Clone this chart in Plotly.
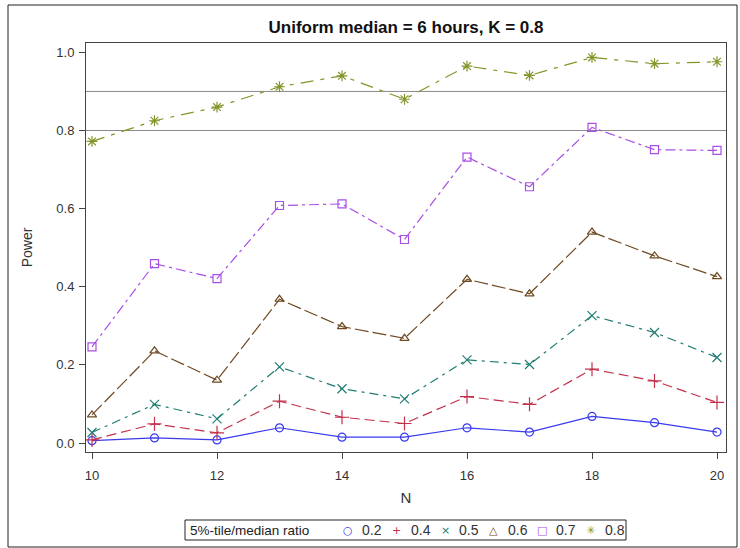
import plotly.graph_objects as go

# Sample size on the x axis
N = [10, 11, 12, 13, 14, 15, 16, 17, 18, 19, 20]

# Ratio of 5th percentile to median (legend groups)
RATIOS = ["0.2", "0.4", "0.5", "0.6", "0.7", "0.8"]
LEGEND_TITLE = "5%-tile/median ratio"

# Estimated power for each ratio
power_02 = [0.006, 0.013, 0.008, 0.039, 0.015, 0.015, 0.039, 0.028, 0.068, 0.052, 0.028]
power_04 = [0.008, 0.049, 0.026, 0.107, 0.066, 0.050, 0.119, 0.099, 0.189, 0.159, 0.104]
power_05 = [0.027, 0.099, 0.062, 0.195, 0.139, 0.113, 0.213, 0.201, 0.326, 0.283, 0.219]
power_06 = [0.072, 0.236, 0.161, 0.368, 0.298, 0.268, 0.419, 0.382, 0.540, 0.479, 0.426]
power_07 = [0.246, 0.459, 0.421, 0.608, 0.612, 0.521, 0.732, 0.656, 0.808, 0.751, 0.749]
power_08 = [0.772, 0.825, 0.860, 0.912, 0.940, 0.880, 0.965, 0.941, 0.987, 0.971, 0.976]

# Target power reference lines
REF_LINES = [0.9, 0.8]

POWER = [power_02, power_04, power_05, power_06, power_07, power_08]

COLORS = ["#3a3aee", "#c2304a", "#1f7d73", "#6e4a22", "#a84fe6", "#84952a"]
SYMBOLS = ["circle-open", "cross-thin-open", "x-thin-open",
           "triangle-up-open", "square-open", "asterisk-open"]
LEGEND_GLYPHS = ["\u25CB", "+", "\u00D7", "\u25B3", "\u25A1", "\u2733"]
DASHES = ["solid", "10px,5px", "9px,5px,3px,5px", "14px,4px",
          "10px,4px,3px,4px", "13px,7px,4px,7px"]
SIZES = [8, 10, 9, 8, 8, 9]

# Plot-area geometry in pixels
W, H = 740, 548
ML, MR, MT, MB = 86, 14, 43, 96
PW, PH = W - ML - MR, H - MT - MB


def px_x(px):
    return (px - ML) / PW


def px_y(py):
    return (H - MB - py) / PH


fig = go.Figure()

for ratio, vals, col, sym, dash, sz in zip(RATIOS, POWER, COLORS, SYMBOLS, DASHES, SIZES):
    fig.add_trace(go.Scatter(
        x=N, y=vals, mode="lines+markers", showlegend=False,
        line=dict(color=col, width=1.2, dash=dash),
        marker=dict(symbol=sym, size=sz, color=col, line=dict(color=col, width=1.2)),
        name=ratio,
    ))

for ref in REF_LINES:
    fig.add_hline(y=ref, line=dict(color="#8a8a8a", width=1), layer="below")

# Outer frame around the whole graph
fig.add_shape(type="rect", xref="paper", yref="paper",
              x0=px_x(8), x1=px_x(737), y0=px_y(547), y1=px_y(5),
              line=dict(color="#222222", width=1), fillcolor="rgba(0,0,0,0)")

# Legend box with title and marker entries
LEG_Y = 530
fig.add_shape(type="rect", xref="paper", yref="paper",
              x0=px_x(185), x1=px_x(626), y0=px_y(540), y1=px_y(520),
              line=dict(color="#222222", width=1), fillcolor="white")
fig.add_annotation(xref="paper", yref="paper", x=px_x(188), y=px_y(LEG_Y),
                   xanchor="left", yanchor="middle", showarrow=False,
                   text=LEGEND_TITLE, font=dict(size=13.5, color="#222222"))
for i, (ratio, col, glyph) in enumerate(zip(RATIOS, COLORS, LEGEND_GLYPHS)):
    cx = 348 + 48.5 * i
    fig.add_annotation(xref="paper", yref="paper", x=px_x(cx), y=px_y(LEG_Y),
                       xanchor="center", yanchor="middle", showarrow=False,
                       text=glyph, font=dict(family="DejaVu Sans", size=11, color=col))
    fig.add_annotation(xref="paper", yref="paper", x=px_x(cx + 12), y=px_y(LEG_Y),
                       xanchor="left", yanchor="middle", showarrow=False,
                       text=ratio, font=dict(size=14, color="#333333"))

axis_font = dict(family="Liberation Sans, Arial, sans-serif", size=13, color="#333333")

fig.update_layout(
    width=W, height=H,
    margin=dict(l=ML, r=MR, t=MT, b=MB, autoexpand=False),
    showlegend=False,
    paper_bgcolor="white", plot_bgcolor="white",
    font=dict(family="Liberation Sans, Arial, sans-serif", color="#222222"),
    title=dict(text="<b>Uniform median = 6 hours, K = 0.8</b>",
               x=(ML + W - MR) / 2 / W, xanchor="center",
               y=1 - 27 / H, yanchor="middle",
               font=dict(size=17, color="#111111")),
    xaxis=dict(
        range=[9.904, 20.144], tickmode="array", tickvals=[10, 12, 14, 16, 18, 20],
        ticks="outside", ticklen=6, tickcolor="#444444", tickfont=axis_font,
        ticklabelstandoff=5, automargin=False,
        showgrid=False, zeroline=False, showline=True, linecolor="#444444",
        linewidth=1, mirror=True,
        title=dict(text="N", font=dict(size=15, color="#333333"), standoff=10),
    ),
    yaxis=dict(
        range=[-0.023, 1.024], tickmode="array", tickvals=[0, 0.2, 0.4, 0.6, 0.8, 1.0],
        tickformat=".1f",
        ticks="outside", ticklen=6, tickcolor="#444444", tickfont=axis_font,
        ticklabelstandoff=2, automargin=False,
        showgrid=False, zeroline=False, showline=True, linecolor="#444444",
        linewidth=1, mirror=True,
        title=dict(text="Power", font=dict(size=14, color="#333333"), standoff=20),
    ),
)

fig.write_html("out.html")
